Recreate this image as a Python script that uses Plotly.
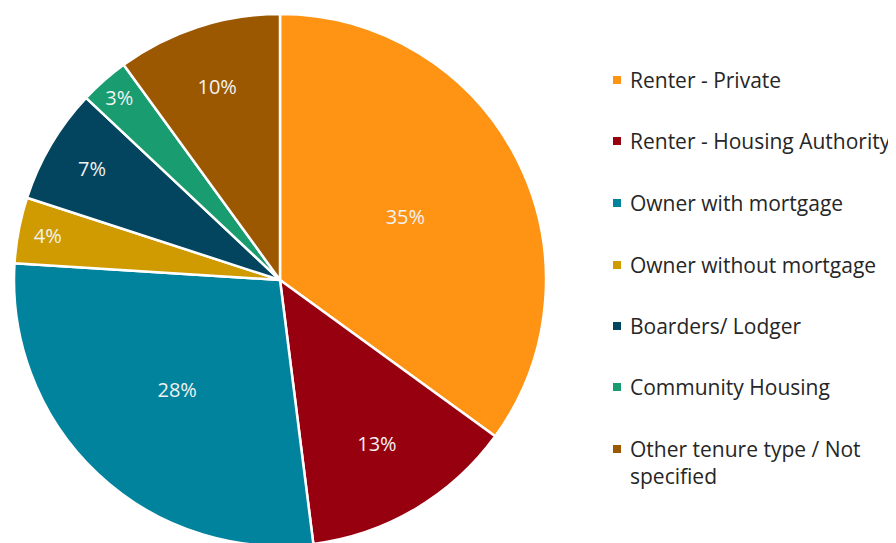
import plotly.graph_objects as go

categories = [
    "Renter - Private",
    "Renter - Housing Authority",
    "Owner with mortgage",
    "Owner without mortgage",
    "Boarders/ Lodger",
    "Community Housing",
    "Other tenure type / Not<br>specified",
]
shares = [35, 13, 28, 4, 7, 3, 10]
colors = ["#FF9314", "#97000E", "#02839D", "#CF9B00", "#03445F", "#189C70", "#9C5800"]

W, H = 896, 543
OFF = 8  # page body margin
FONT = "Open Sans"

# pie: centre (280,280), radius 266 in page pixels
cx, cy, r = 280 - OFF, 280 - OFF, 266
fig = go.Figure(
    go.Pie(
        labels=categories,
        values=shares,
        sort=False,
        direction="clockwise",
        rotation=0,
        marker=dict(colors=colors, line=dict(color="white", width=2.5)),
        textinfo="percent",
        texttemplate="%{percent:.0%}",
        textposition="inside",
        insidetextorientation="horizontal",
        insidetextfont=dict(family=FONT, size=20, color="#F2F2F2"),
        domain=dict(x=[(cx - r) / W, (cx + r) / W], y=[1 - (cy + r) / H, 1 - (cy - r) / H]),
        showlegend=False,
        hoverinfo="label+percent",
    )
)

# legend drawn as squares + text, one entry per category
leg_y = [80, 141, 203, 265, 326, 387, 449]
for i, (lab, col) in enumerate(zip(categories, colors)):
    yc = leg_y[i] - OFF
    fig.add_shape(
        type="rect", xref="paper", yref="paper",
        x0=(613 - OFF) / W, x1=(621 - OFF) / W, y0=1 - (yc + 4) / H, y1=1 - (yc - 4) / H,
        fillcolor=col, line=dict(width=0),
    )
    nlines = lab.count("<br>") + 1
    fig.add_annotation(
        xref="paper", yref="paper", x=(628 - OFF) / W, y=1 - yc / H,
        text=lab, showarrow=False, xanchor="left",
        yanchor="middle" if nlines == 1 else "top",
        yshift=0 if nlines == 1 else 16,
        align="left",
        font=dict(family=FONT, size=21, color="#262626"),
    )

fig.update_layout(
    width=W, height=H,
    margin=dict(l=0, r=0, t=0, b=0),
    paper_bgcolor="white", plot_bgcolor="white",
    font=dict(family=FONT),
)

fig.write_html("out.html")
